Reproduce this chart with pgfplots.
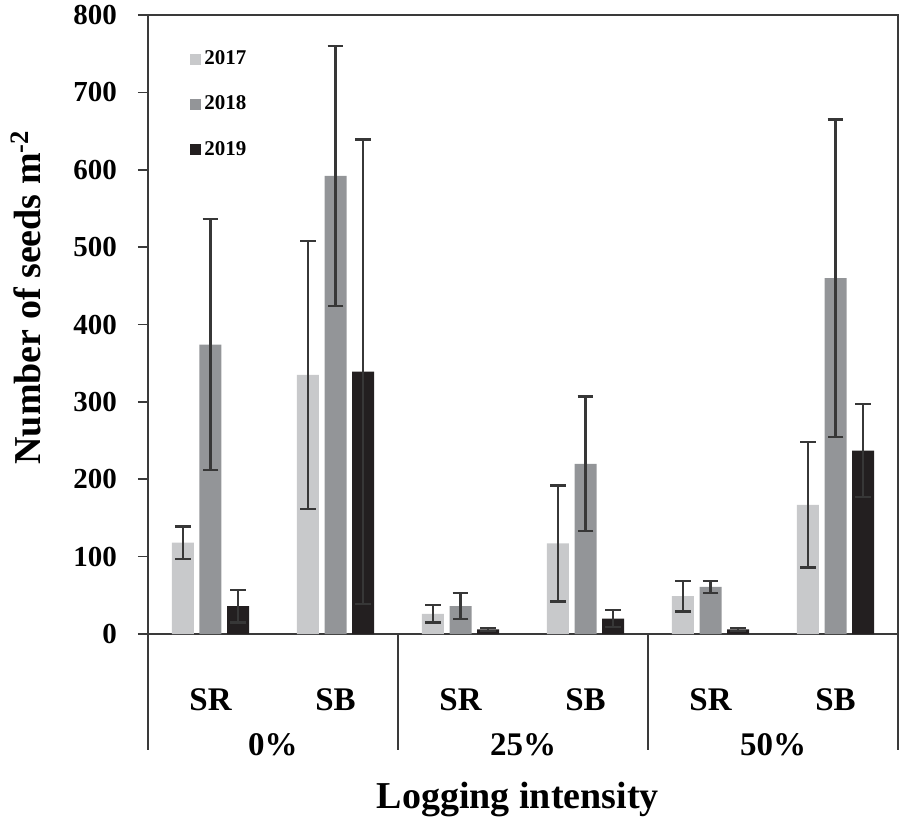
\documentclass[border=0pt]{standalone}
\usepackage{pgfplots}
\usepackage{pgfplotstable}
\pgfplotsset{compat=1.18}
\usepackage{fontspec}
\setmainfont{Liberation Serif}
\definecolor{c17}{RGB}{200,201,203}
\definecolor{c18}{RGB}{147,149,152}
\definecolor{c19}{RGB}{35,31,32}
\definecolor{framec}{RGB}{58,58,58}
\definecolor{errc}{RGB}{55,55,55}
\pgfplotstableread{
x a ae b be c ce
0 118 21 374 162 36 21
1 335 173 592 168 339 300
2 26 11 36 17 6 2
3 117 75 220 87 20 11
4 49 20 61 8 6 2
5 167 81 460 205 237 60
}\datatable
\begin{document}
\begin{tikzpicture}
\useasboundingbox (-74pt,-93pt) rectangle (378pt,317pt);
\begin{axis}[
  scale only axis, width=375pt, height=309.5pt,
  at={(0,0)}, anchor=south west,
  clip=false,
  xmin=-0.5, xmax=5.5, ymin=0, ymax=800,
  ytick={0,100,...,800},
  xtick={0,...,5},
  xticklabels={SR,SB,SR,SB,SR,SB},
  tick pos=left,
  x tick style={draw=none},
  y tick style={line width=0.8pt, color=framec},
  tick align=outside, major tick length=5pt,
  axis line style={line width=0.9pt, color=framec},
  /pgf/number format/assume math mode=true,
  yticklabel style={font=\bfseries\fontsize{14.5}{16}\selectfont, anchor=east, xshift=-7pt},
  xticklabel style={font=\bfseries\fontsize{16.5}{18}\selectfont, anchor=center, yshift=-28pt},
  ylabel={Number of seeds m\textsuperscript{-2}},
  ylabel style={font=\bfseries\fontsize{19}{22}\selectfont, at={(axis description cs:-0.163,0.544)}, anchor=center, rotate=0},
  xlabel={Logging intensity},
  xlabel style={font=\bfseries\fontsize{19}{22}\selectfont, at={(axis description cs:0.493,-0.268)}, anchor=center},
  ybar=2.85pt, bar width=11pt,
  legend style={at={(0.056,0.948)}, anchor=north west, draw=none, fill=none,
    font=\bfseries\fontsize{10.5}{12}\selectfont, row sep=11.2pt, inner sep=0pt,
    nodes={inner sep=1.5pt}},
  legend cell align=left,
  error bars/error bar style={line width=1.1pt, color=errc},
  error bars/error mark options={line width=1.1pt, color=errc, mark size=3.9pt, rotate=90},
]
\addplot[fill=c17, draw=none,
  legend image code/.code={\fill[c17] (0pt,-2.75pt) rectangle (5.5pt,2.75pt);},
  error bars/.cd, y dir=both, y explicit]
  table[x=x, y=a, y error=ae] {\datatable};
\addplot[fill=c18, draw=none,
  legend image code/.code={\fill[c18] (0pt,-2.75pt) rectangle (5.5pt,2.75pt);},
  error bars/.cd, y dir=both, y explicit]
  table[x=x, y=b, y error=be] {\datatable};
\addplot[fill=c19, draw=none,
  legend image code/.code={\fill[c19] (0pt,-2.75pt) rectangle (5.5pt,2.75pt);},
  error bars/.cd, y dir=both, y explicit]
  table[x=x, y=c, y error=ce] {\datatable};
\legend{2017,2018,2019}
\draw[framec, line width=0.9pt] (axis cs:-0.5,0) -- ([yshift=-58pt]axis cs:-0.5,0);
\draw[framec, line width=0.9pt] (axis cs:1.5,0) -- ([yshift=-58pt]axis cs:1.5,0);
\draw[framec, line width=0.9pt] (axis cs:3.5,0) -- ([yshift=-58pt]axis cs:3.5,0);
\draw[framec, line width=0.9pt] (axis cs:5.5,0) -- ([yshift=-58pt]axis cs:5.5,0);
\node[font=\bfseries\fontsize{16.5}{18}\selectfont, anchor=center] at ([yshift=-55.5pt]axis cs:0.5,0) {0\%};
\node[font=\bfseries\fontsize{16.5}{18}\selectfont, anchor=center] at ([yshift=-55.5pt]axis cs:2.5,0) {25\%};
\node[font=\bfseries\fontsize{16.5}{18}\selectfont, anchor=center] at ([yshift=-55.5pt]axis cs:4.5,0) {50\%};
\end{axis}
\end{tikzpicture}
\end{document}
